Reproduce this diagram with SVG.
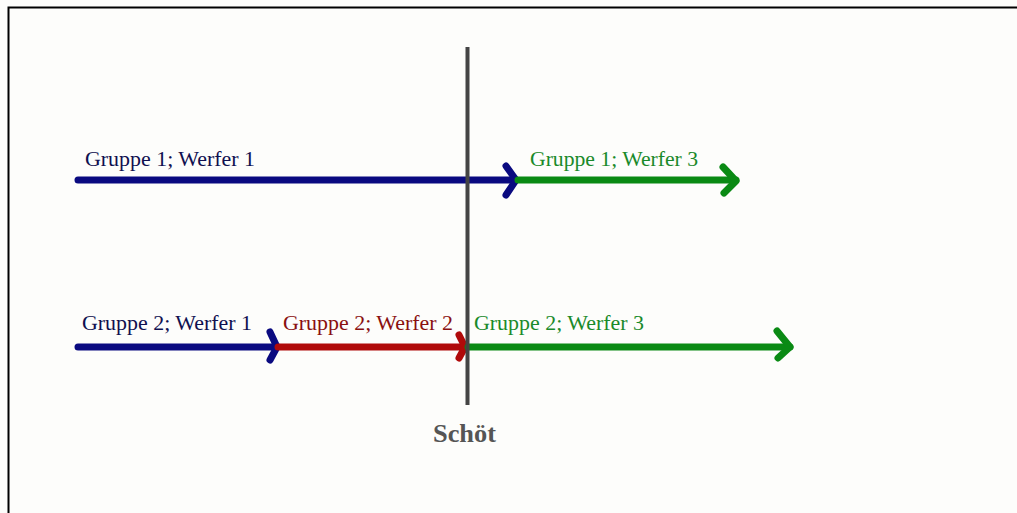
<svg xmlns="http://www.w3.org/2000/svg" width="1017" height="513" viewBox="0 0 1017 513">
<style>
.lbl{font-family:"Liberation Serif","Times New Roman",serif;font-size:20px}
.ln{fill:none;stroke-width:7;stroke-linecap:round;stroke-linejoin:round}
.blue{stroke:#0a0a80}
.green{stroke:#0a8a14}
.red{stroke:#b00a0a}
</style>
<rect x="0" y="0" width="1017" height="513" fill="#fdfdfb"/>
<path d="M8.5 513 V7.5 H1017" fill="none" stroke="#000" stroke-width="2"/>
<g id="connectors">
<g id="g1w1">
<line class="ln blue" x1="78" y1="180" x2="516" y2="180"/>
<polyline class="ln blue" points="506,166 516,180 506,195"/>
</g>
<g id="g1w3">
<line class="ln green" x1="518" y1="180" x2="736" y2="180"/>
<polyline class="ln green" points="723,167 736,181 724,193"/>
</g>
<g id="g2w1">
<line class="ln blue" x1="78" y1="347" x2="276" y2="347"/>
<polyline class="ln blue" points="270,332 277,347 270,360"/>
</g>
<g id="g2w2">
<line class="ln red" x1="278" y1="347" x2="464" y2="347"/>
<polyline class="ln red" points="459,335 465,347 459,358"/>
</g>
<g id="g2w3">
<line class="ln green" x1="468" y1="347" x2="790" y2="347"/>
<polyline class="ln green" points="777,331 790,347 778,358"/>
</g>
</g>
<g id="schoet">
<line x1="467.5" y1="47" x2="467.5" y2="405" stroke="#444" stroke-width="4"/>
<text x="433" y="442" font-family="Liberation Serif,'Times New Roman',serif" font-weight="bold" font-size="26" fill="#555" textLength="63" lengthAdjust="spacingAndGlyphs">Schöt</text>
</g>
<g id="labels">
<text class="lbl" x="85" y="166" fill="#101050" textLength="170" lengthAdjust="spacingAndGlyphs">Gruppe 1; Werfer 1</text>
<text class="lbl" x="530" y="166" fill="#1a8a2a" textLength="168" lengthAdjust="spacingAndGlyphs">Gruppe 1; Werfer 3</text>
<text class="lbl" x="82" y="330" fill="#101050" textLength="170" lengthAdjust="spacingAndGlyphs">Gruppe 2; Werfer 1</text>
<text class="lbl" x="283" y="330" fill="#8a1010" textLength="170" lengthAdjust="spacingAndGlyphs">Gruppe 2; Werfer 2</text>
<text class="lbl" x="474" y="330" fill="#1a8a2a" textLength="170" lengthAdjust="spacingAndGlyphs">Gruppe 2; Werfer 3</text>
</g>
</svg>
